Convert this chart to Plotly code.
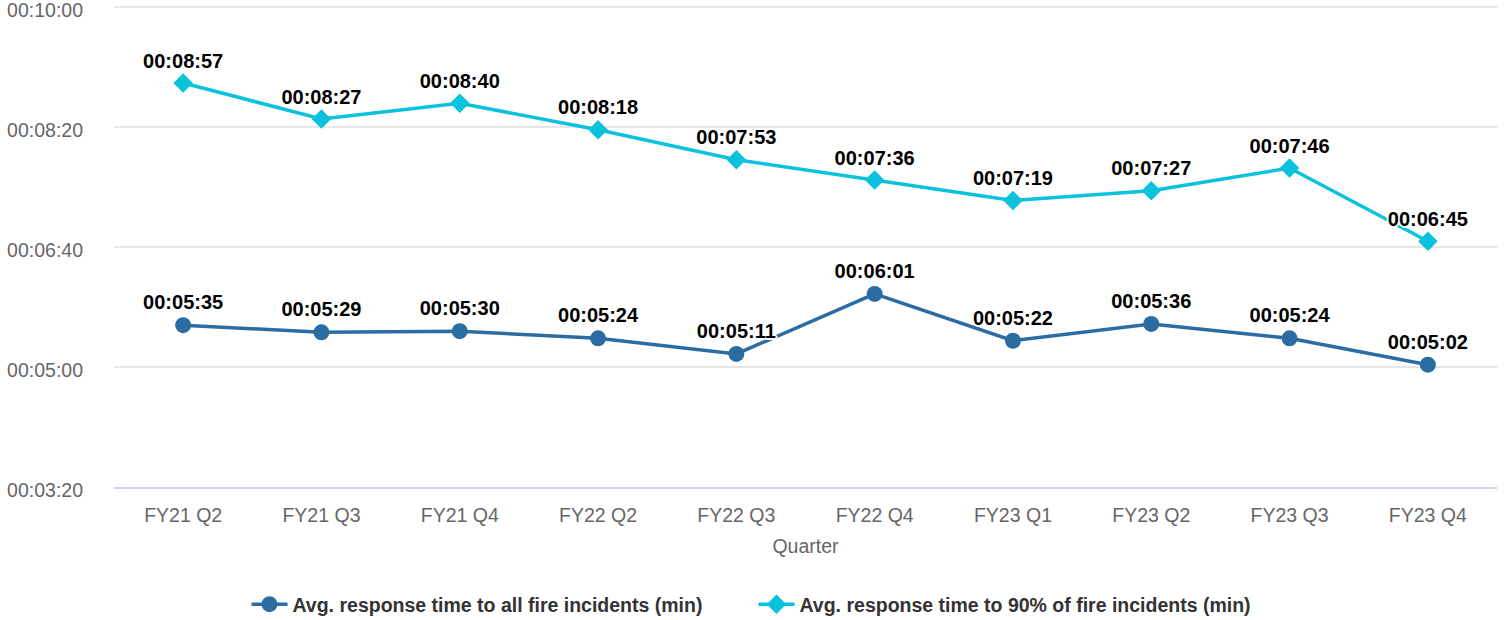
import plotly.graph_objects as go

quarters = ["FY21 Q2", "FY21 Q3", "FY21 Q4", "FY22 Q2", "FY22 Q3",
            "FY22 Q4", "FY23 Q1", "FY23 Q2", "FY23 Q3", "FY23 Q4"]

# response times in seconds
avg_all = [335, 329, 330, 324, 311, 361, 322, 336, 324, 302]
avg_90 = [537, 507, 520, 498, 473, 456, 439, 447, 466, 405]

tick_vals = [200, 300, 400, 500, 600]


def hms(sec):
    return "%02d:%02d:%02d" % (sec // 3600, (sec % 3600) // 60, sec % 60)


FONT = "Liberation Sans, Arial, sans-serif"
halo = ("2px 0 0 #fff, -2px 0 0 #fff, 0 2px 0 #fff, 0 -2px 0 #fff, "
        "1px 1px 0 #fff, -1px -1px 0 #fff, 1px -1px 0 #fff, -1px 1px 0 #fff")
label_font = dict(family=FONT, size=20, color="#000000", weight="bold", shadow=halo)

fig = go.Figure()
fig.add_trace(go.Scatter(
    x=quarters, y=avg_all, mode="lines+markers+text",
    name="Avg. response time to all fire incidents (min)",
    line=dict(color="#2b6ca3", width=3.5),
    marker=dict(symbol="circle", size=16, color="#2b6ca3"),
    text=[hms(v) for v in avg_all], textposition="top center",
    textfont=label_font, cliponaxis=False,
))
fig.add_trace(go.Scatter(
    x=quarters, y=avg_90, mode="lines+markers+text",
    name="Avg. response time to 90% of fire incidents (min)",
    line=dict(color="#0ac2dc", width=3.5),
    marker=dict(symbol="diamond", size=15, color="#0ac2dc"),
    text=[hms(v) for v in avg_90], textposition="top center",
    textfont=label_font, cliponaxis=False,
))

fig.update_layout(
    width=1507, height=620,
    margin=dict(l=114, r=10, t=5, b=133, autoexpand=False),
    plot_bgcolor="#ffffff", paper_bgcolor="#ffffff",
    font=dict(family=FONT, size=19.5, color="#666666"),
    showlegend=True,
    legend=dict(orientation="h", xref="container", yref="container",
                x=0.5, xanchor="center", y=0.025, yanchor="middle",
                font=dict(family=FONT, size=19.5, color="#333333", weight="bold"),
                itemwidth=36, entrywidth=456, entrywidthmode="pixels",
                traceorder="normal"),
    xaxis=dict(
        title=dict(text="Quarter", font=dict(size=19.5, color="#666666"), standoff=14),
        showgrid=False, showline=True, linecolor="#ccd6eb", linewidth=2,
        ticks="", ticklabelstandoff=10, tickfont=dict(size=19.5, color="#666666"),
        range=[-0.5, len(quarters) - 0.5],
    ),
    yaxis=dict(
        range=[200, 602], tickvals=tick_vals, ticktext=[hms(v) for v in tick_vals],
        showgrid=True, gridcolor="#e6e6e6", gridwidth=2, zeroline=False,
        ticks="", ticklabelstandoff=30, ticklabelshift=3,
        ticklabeloverflow="allow", tickfont=dict(size=19.5, color="#666666"),
    ),
)

fig.write_html("out.html")
